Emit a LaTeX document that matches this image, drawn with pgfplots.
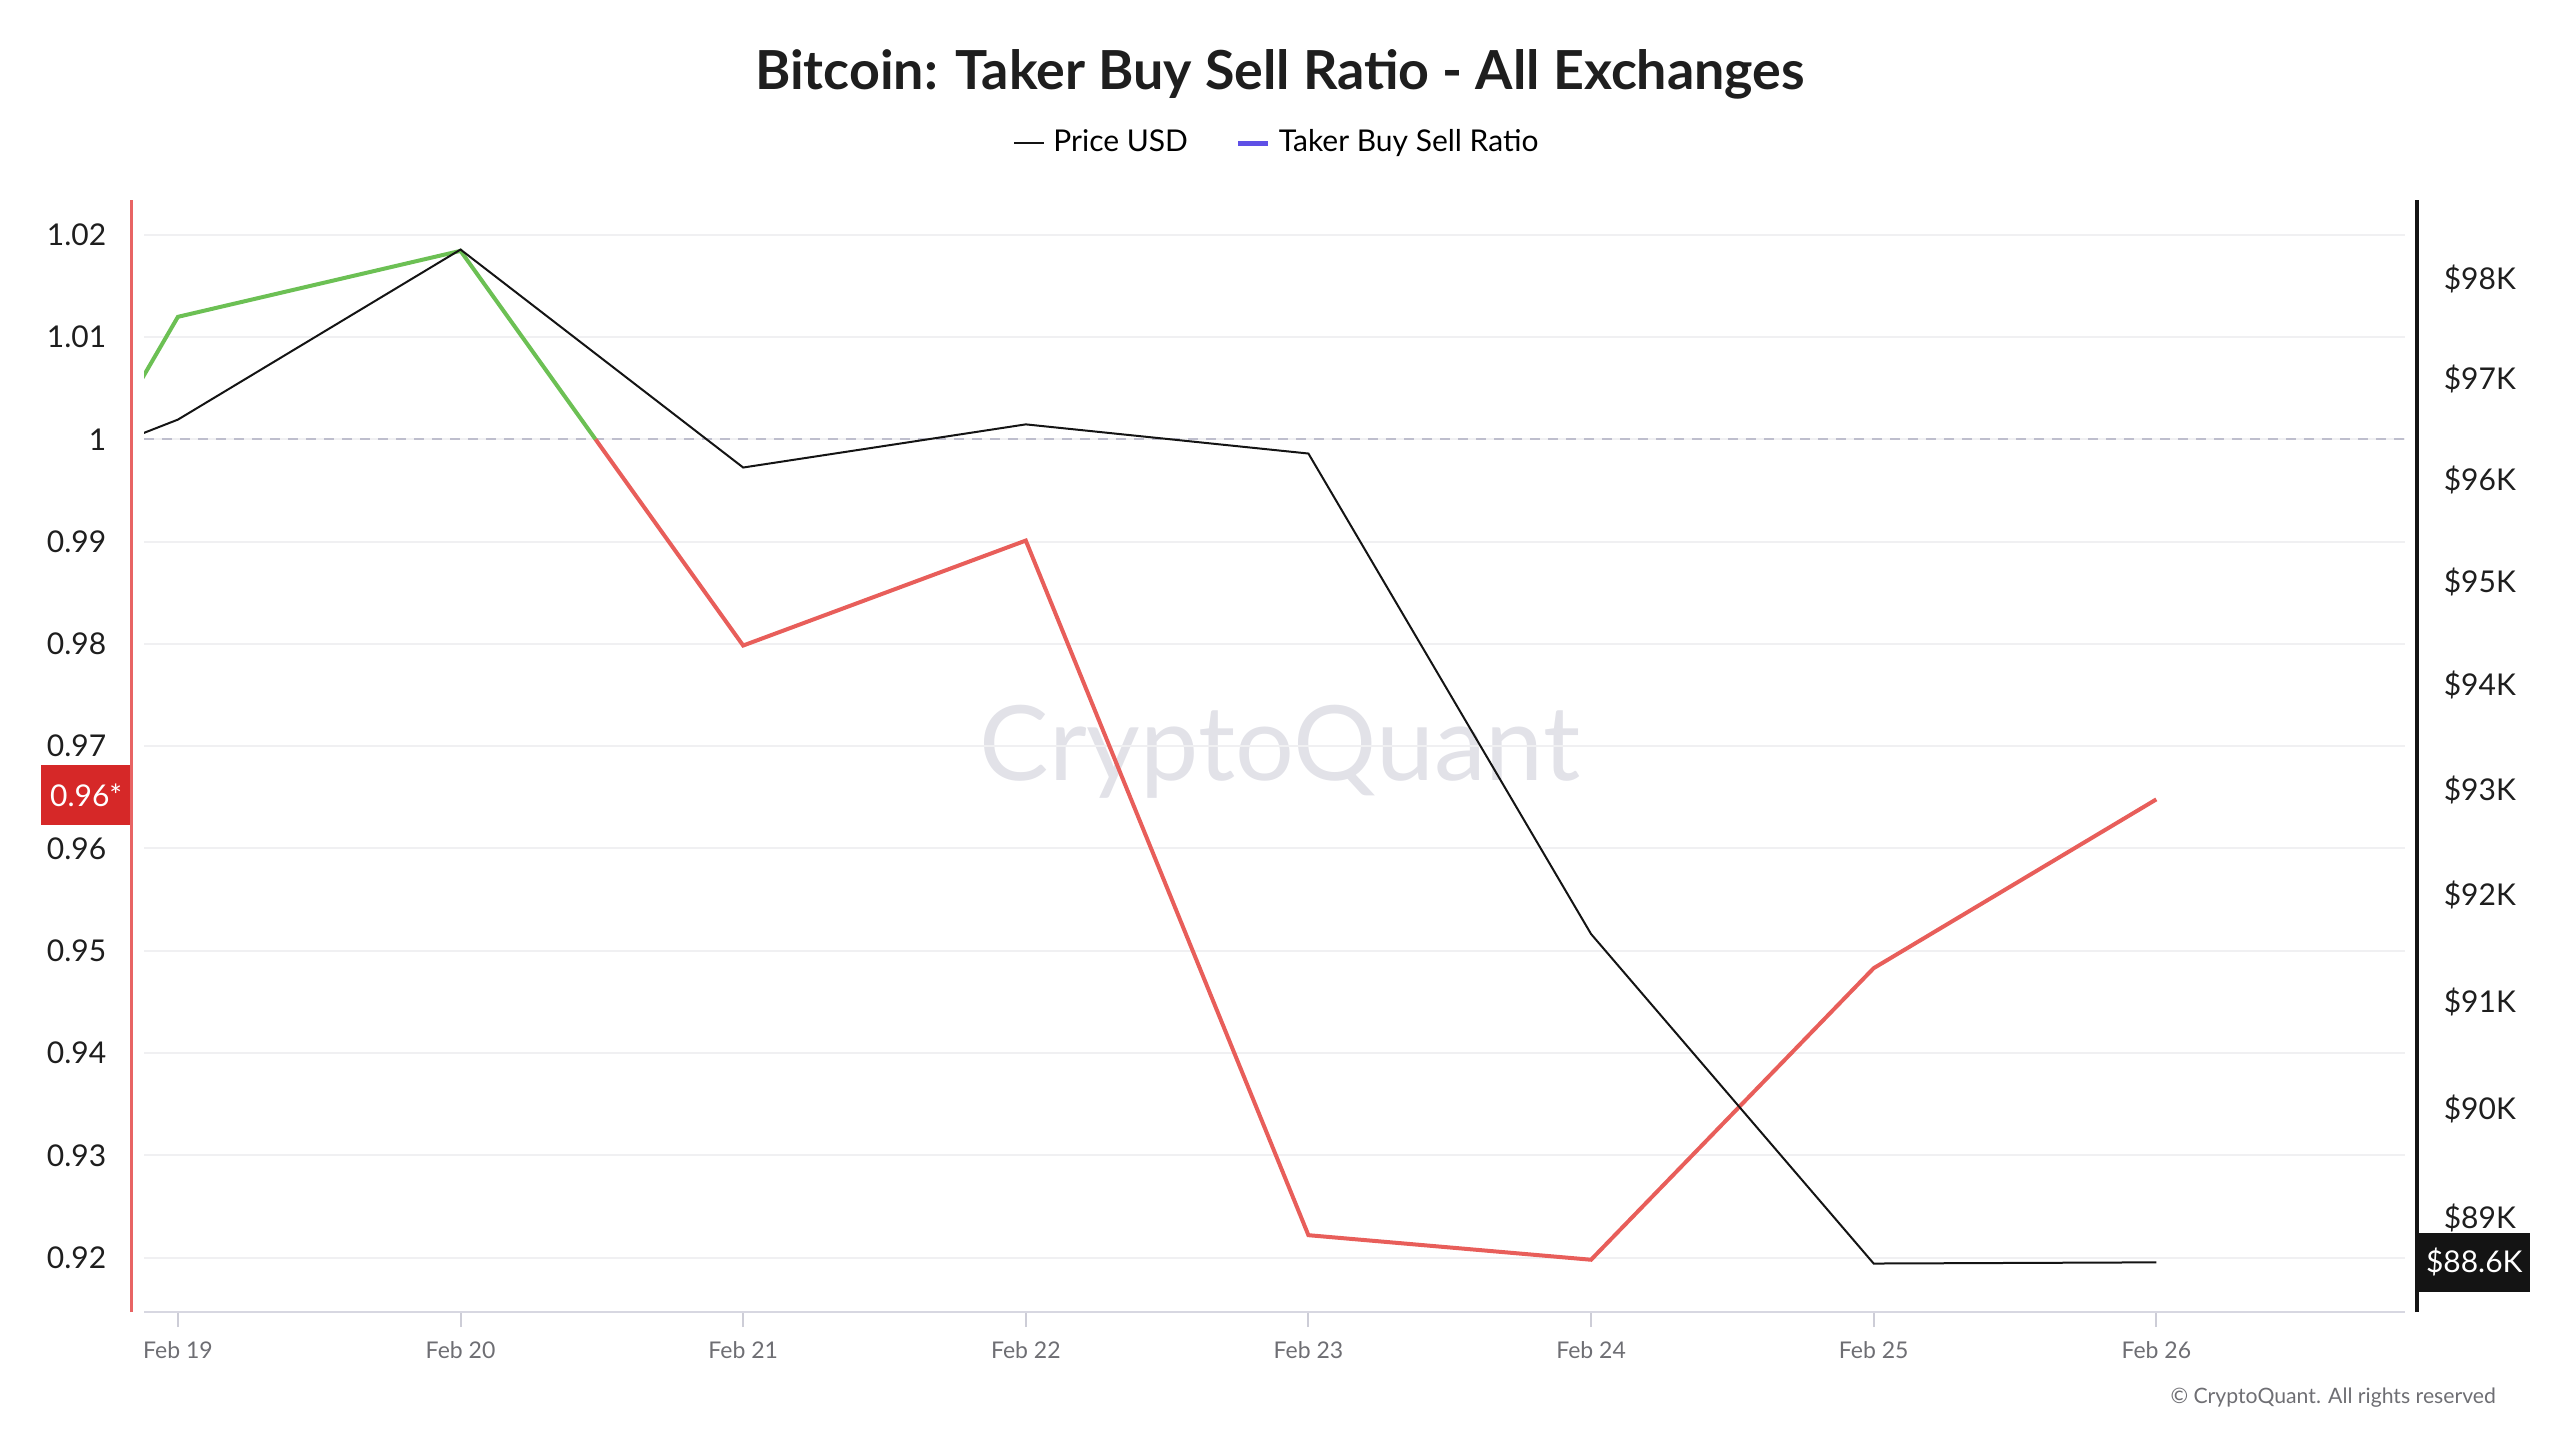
\documentclass[border=0pt]{standalone}
\usepackage{pgfplots}
\pgfplotsset{compat=1.18}
\usepackage{fontspec}
\setmainfont{Lato}
\definecolor{gridc}{RGB}{240,240,242}
\definecolor{dashc}{RGB}{190,190,205}
\definecolor{axisc}{RGB}{215,215,225}
\definecolor{tickc}{RGB}{205,205,215}
\definecolor{xlab}{RGB}{110,110,115}
\definecolor{ylab}{RGB}{30,30,30}
\definecolor{upc}{RGB}{108,192,84}
\definecolor{downc}{RGB}{232,94,90}
\definecolor{leftax}{RGB}{232,100,100}
\definecolor{boxred}{RGB}{214,40,40}
\definecolor{legpurple}{RGB}{95,80,230}
\definecolor{wm}{RGB}{226,226,232}
\definecolor{pricec}{RGB}{20,20,20}

\pgfplotstableread{
x ratio
-1 0.9644
-0.2516 1.0
}\ratiodownA
\pgfplotstableread{
x ratio
-0.2516 1.0
0 1.01197
1 1.01842
1.4775 1.0
}\ratioup
\pgfplotstableread{
x ratio
1.4775 1.0
2 0.97984
3 0.9901
4 0.9222
5 0.9198
6 0.9483
7 0.9648
}\ratiodownB
% price in thousands of USD
\pgfplotstableread{
x price
-1 95.507
0 96.598
1 98.297
2 96.124
3 96.549
4 96.262
5 91.635
6 88.590
7 88.600
}\price

\begin{document}
\begin{tikzpicture}
\useasboundingbox (-36pt,-32pt) rectangle (604pt,328pt);
% watermark
\node[text=wm, font=\fontsize{26pt}{30pt}\selectfont] at (284pt,140pt) {CryptoQuant};
\begin{axis}[
  at={(0,0)}, anchor=south west,
  scale only axis, width=565.25pt, height=278pt,
  clip mode=individual,
  xmin=-0.12, xmax=7.88, ymin=0.91469, ymax=1.02339,
  axis line style={draw=none},
  xtick={0,1,2,3,4,5,6,7},
  xticklabels={Feb 19,Feb 20,Feb 21,Feb 22,Feb 23,Feb 24,Feb 25,Feb 26},
  ytick={0.92,0.93,0.94,0.95,0.96,0.97,0.98,0.99,1.0,1.01,1.02},
  yticklabels={0.92,0.93,0.94,0.95,0.96,0.97,0.98,0.99,1,1.01,1.02},
  xtick pos=bottom, ytick pos=left,
  ymajorgrids, grid style={color=gridc, line width=0.5pt},
  xtick align=outside, ytick align=inside,
  major tick length=3.75pt,
  xtick style={draw=tickc, line width=0.5pt},
  ytick style={draw=none},
  xticklabel style={font=\fontsize{5.75pt}{7pt}\selectfont, text=xlab},
  yticklabel style={font=\fontsize{7.5pt}{9pt}\selectfont, text=ylab, anchor=east, inner sep=0pt, xshift=-9.25pt},
]
\addplot[draw=dashc, line width=0.5pt, dash pattern=on 2.5pt off 2pt, forget plot] coordinates {(-0.12,1.0) (7.88,1.0)};
\addplot[draw=downc, line width=1pt, forget plot] table[x=x,y=ratio] {\ratiodownA};
\addplot[draw=upc, line width=1pt, forget plot] table[x=x,y=ratio] {\ratioup};
\addplot[draw=downc, line width=1pt, forget plot] table[x=x,y=ratio] {\ratiodownB};
\node[fill=boxred, text=white, anchor=east, xshift=-3pt, font=\fontsize{7.5pt}{9pt}\selectfont, minimum height=15pt, minimum width=22.5pt, inner sep=1pt] at (axis cs:-0.12,0.9652) {0.96*};
\end{axis}
\begin{axis}[
  at={(0,0)}, anchor=south west,
  scale only axis, width=565.25pt, height=278pt,
  clip mode=individual,
  xmin=-0.12, xmax=7.88, ymode=log, ymin=88.155, ymax=98.802,
  hide x axis,
  axis line style={draw=none},
  ytick={89,90,91,92,93,94,95,96,97,98},
  yticklabels={\$89K,\$90K,\$91K,\$92K,\$93K,\$94K,\$95K,\$96K,\$97K,\$98K},
  minor ytick={},
  ytick align=inside,
  ytick style={draw=none},
  yticklabel pos=right,
  yticklabel style={font=\fontsize{7.5pt}{9pt}\selectfont, text=ylab, anchor=west, inner sep=0pt, xshift=9.5pt},
  legend style={at={(0.5024,1.0504)}, anchor=center, draw=none, fill=none,
    font=\fontsize{7.5pt}{9pt}\selectfont, legend columns=2,
    /tikz/every even column/.append style={column sep=10pt}},
  legend image code/.code={\draw[#1] (0pt,0pt) -- (7.5pt,0pt);},
]
\addlegendimage{color=pricec, line width=0.5pt}
\addlegendentry{Price USD}
\addlegendimage{color=legpurple, line width=1.2pt}
\addlegendentry{Taker Buy Sell Ratio}
\addplot[draw=pricec, line width=0.5pt, forget plot] table[x=x,y=price] {\price};
\node[fill=pricec, text=white, anchor=west, xshift=3.25pt, font=\fontsize{7.5pt}{9pt}\selectfont, minimum height=14.75pt, minimum width=27.75pt, inner sep=1pt] at (axis cs:7.88,88.6) {\$88.6K};
\end{axis}
% axis lines
\draw[leftax, line width=0.75pt] (-3.25pt,0pt) -- (-3.25pt,278pt);
\draw[pricec, line width=0.9pt] (568.25pt,0pt) -- (568.25pt,278pt);
\draw[axisc, line width=0.6pt] (0pt,0pt) -- (565.25pt,0pt);
% title
\node[font=\fontsize{13.45pt}{16pt}\selectfont\bfseries, text=ylab] at (284pt,309.5pt) {Bitcoin: Taker Buy Sell Ratio - All Exchanges};
% copyright
\node[anchor=east, text=xlab, font=\fontsize{5.3pt}{6pt}\selectfont] at (591.5pt,-21.5pt) {© CryptoQuant. All rights reserved};
\end{tikzpicture}
\end{document}
